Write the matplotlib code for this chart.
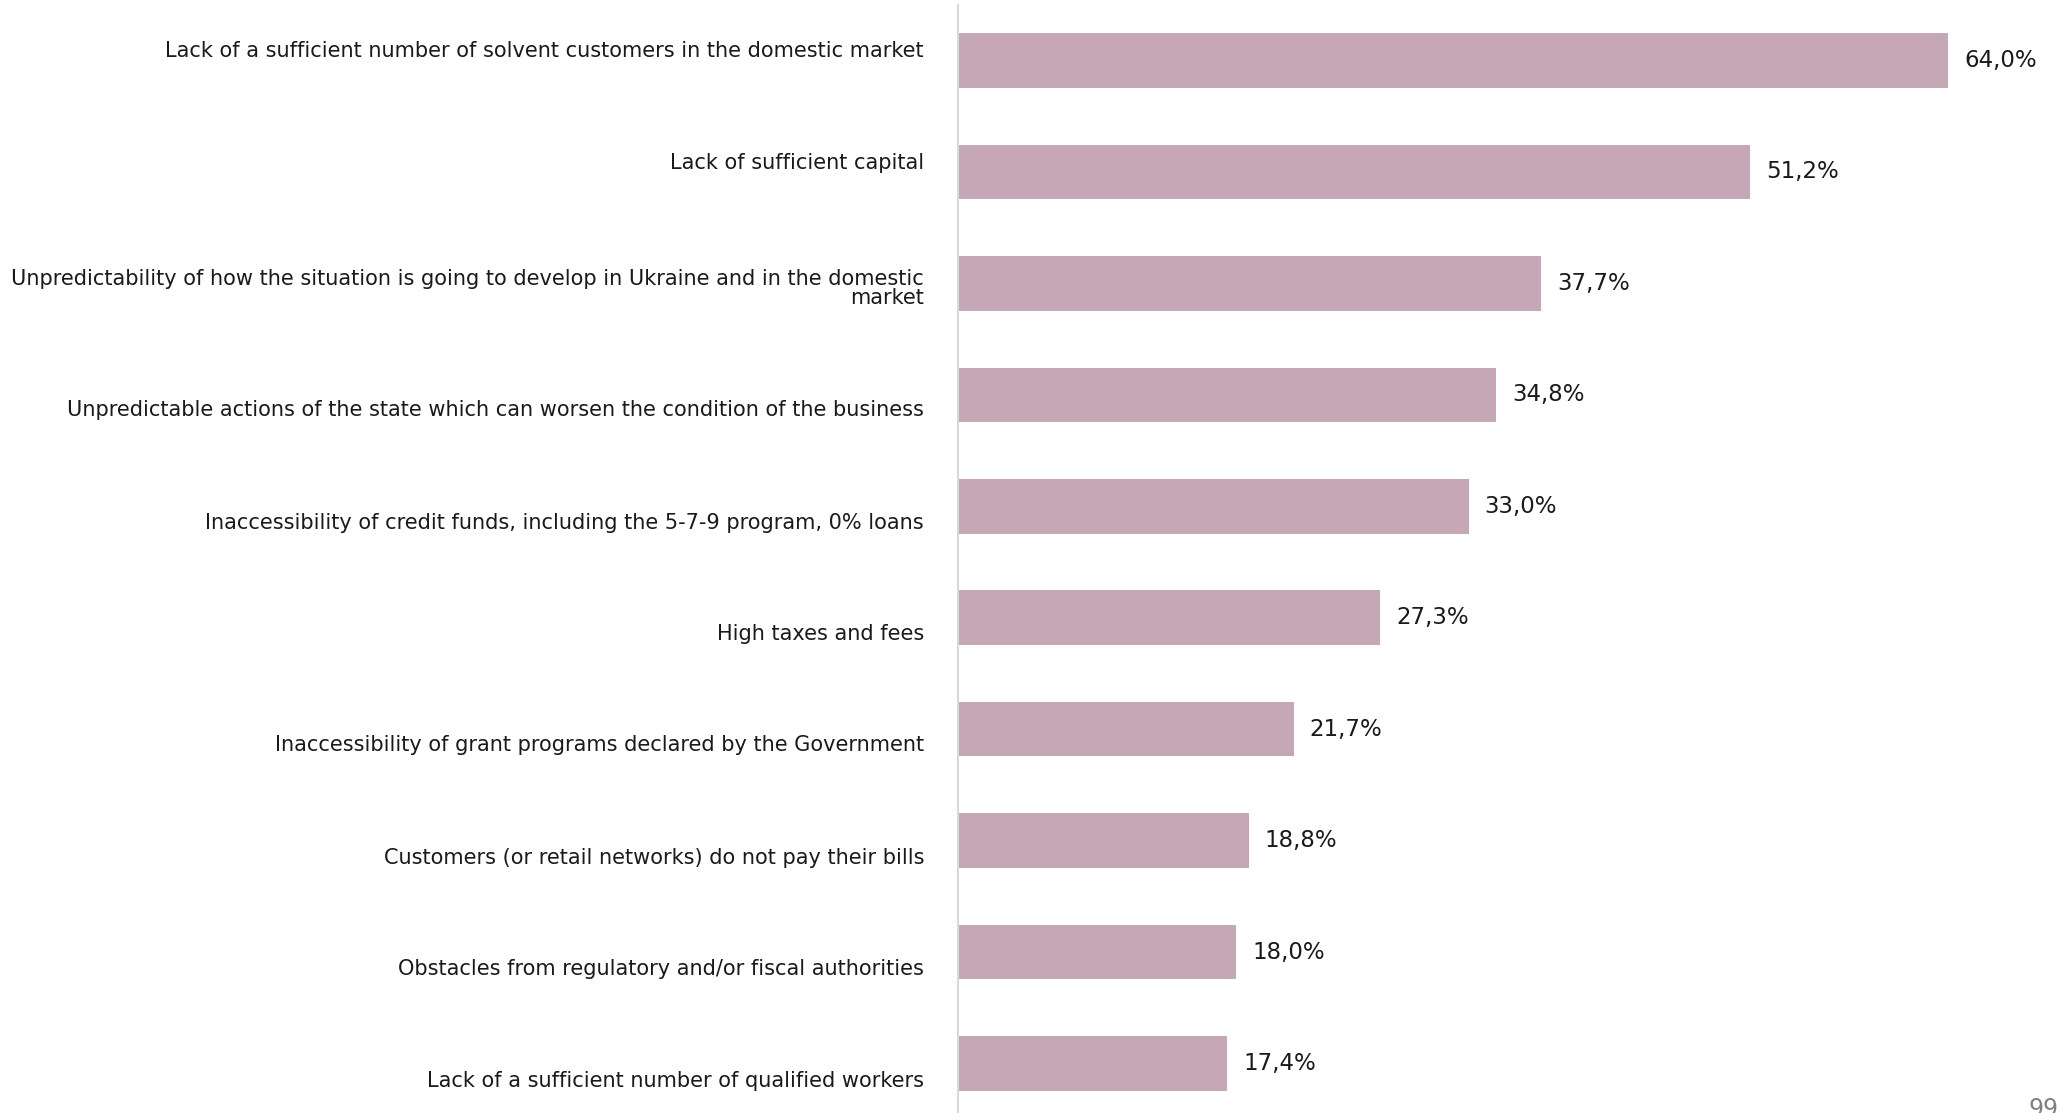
import numpy as np
import matplotlib.pyplot as plt

categories = [
    "Lack of a sufficient number of solvent customers in the domestic market",
    "Lack of sufficient capital",
    "Unpredictability of how the situation is going to develop in Ukraine and in the domestic\nmarket",
    "Unpredictable actions of the state which can worsen the condition of the business",
    "Inaccessibility of credit funds, including the 5-7-9 program, 0% loans",
    "High taxes and fees",
    "Inaccessibility of grant programs declared by the Government",
    "Customers (or retail networks) do not pay their bills",
    "Obstacles from regulatory and/or fiscal authorities",
    "Lack of a sufficient number of qualified workers",
]
values = [64.0, 51.2, 37.7, 34.8, 33.0, 27.3, 21.7, 18.8, 18.0, 17.4]
page_number = "99"

# vertical nudge of each category label, in pixels (down is positive)
label_shift = [-10, -9, 5, 15, 17, 16, 16, 17, 17, 17]

W, H = 2057, 1113
dpi = 100
px = 72 / dpi  # points per pixel

plt.rcParams['font.family'] = ['DejaVu Sans']

fig = plt.figure(figsize=(W / dpi, H / dpi), dpi=dpi)
x0 = 958
ax = fig.add_axes([x0 / W, 0, 1 - x0 / W, 1 - 5 / H])

y = np.arange(len(values))
ax.barh(y, values, height=0.49, color='#C5A7B5')

ax.set_xlim(0, (W - x0) / 15.47)
ax.set_ylim(9.444, -0.498)

for s in ['top', 'right', 'bottom']:
    ax.spines[s].set_visible(False)
ax.spines['left'].set_color('#D9D9D9')
ax.spines['left'].set_linewidth(1.5)
ax.set_xticks([])
ax.set_yticks([])

for i, v in enumerate(values):
    txt = f"{v:.1f}".replace('.', ',') + '%'
    ax.annotate(txt, xy=(v, i), xytext=(16 * px, 0), textcoords='offset points',
                ha='left', va='center', fontsize=16.5, color='#1a1a1a')

for i, lab in enumerate(categories):
    ax.annotate(lab, xy=(0, i), xycoords=('axes fraction', 'data'),
                xytext=(-34 * px, -label_shift[i] * px), textcoords='offset points',
                ha='right', va='center', fontsize=15, color='#1a1a1a',
                linespacing=0.95, annotation_clip=False)

fig.text(2028 / W, 1 - 1097 / H, page_number, ha='left', va='top',
         fontsize=17, color='#808080')

fig.savefig('out.png', dpi=dpi)
